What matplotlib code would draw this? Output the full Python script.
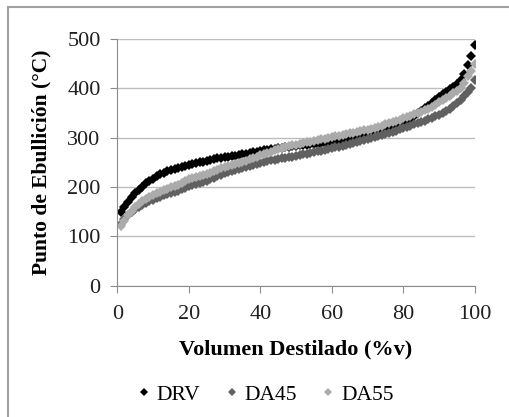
import numpy as np
import matplotlib
matplotlib.use('Agg')
import matplotlib.pyplot as plt
from matplotlib.patches import Rectangle

# volumen destilado (%v)
volumen = list(range(1, 101))

# punto de ebullicion (C)
drv = [150, 160, 170, 180, 187, 194, 201, 208, 213, 217,
       222, 226, 229, 232, 235, 237, 239, 241, 243, 245,
       247, 248, 250, 251, 253, 254, 256, 258, 259, 261,
       262, 263, 264, 266, 267, 268, 270, 271, 272, 274,
       275, 276, 277, 278, 279, 280, 281, 282, 283, 284,
       285, 286, 286, 287, 288, 288, 289, 290, 290, 291,
       292, 293, 295, 296, 298, 299, 301, 302, 304, 306,
       308, 310, 312, 314, 316, 318, 321, 324, 327, 330,
       334, 339, 345, 350, 355, 360, 365, 370, 376, 383,
       388, 393, 398, 404, 410, 418, 430, 448, 465, 488]

da45 = [125, 135, 143, 150, 155, 160, 164, 168, 171, 174,
        177, 180, 183, 186, 188, 191, 193, 196, 199, 203,
        205, 207, 209, 211, 213, 216, 219, 222, 225, 228,
        230, 232, 234, 236, 238, 240, 242, 244, 247, 249,
        251, 252, 254, 255, 257, 258, 259, 261, 262, 264,
        265, 267, 268, 270, 271, 273, 274, 276, 277, 279,
        281, 282, 284, 286, 288, 290, 292, 294, 296, 298,
        300, 302, 304, 306, 308, 310, 312, 314, 317, 319,
        321, 324, 327, 329, 332, 335, 338, 341, 344, 347,
        350, 354, 358, 364, 370, 377, 385, 393, 402, 418]

da55 = [120, 132, 143, 152, 160, 166, 171, 176, 180, 184,
        188, 191, 194, 197, 200, 202, 204, 208, 212, 216,
        218, 220, 222, 224, 226, 229, 232, 235, 238, 240,
        242, 244, 246, 248, 250, 253, 256, 259, 262, 265,
        268, 270, 272, 275, 277, 279, 281, 283, 285, 286,
        288, 290, 291, 292, 294, 295, 297, 298, 300, 301,
        303, 304, 306, 307, 309, 310, 312, 313, 315, 316,
        318, 320, 322, 324, 327, 329, 332, 334, 337, 340,
        342, 345, 348, 350, 353, 356, 359, 362, 367, 372,
        376, 380, 385, 390, 395, 402, 412, 425, 435, 450]

series = [('DRV', drv, '#000000'), ('DA45', da45, '#606060'), ('DA55', da55, '#ababab')]

plt.rcParams['font.family'] = ['Liberation Serif', 'DejaVu Serif']

fig = plt.figure(figsize=(5.1, 4.17), dpi=100)
ax = fig.add_axes([0.230, 0.315, 0.701, 0.591])

for nombre, valores, color in series:
    ax.plot(volumen, valores, linestyle='none', marker='D', markersize=5,
            color=color, markeredgewidth=0, label=nombre)

ax.set_xlim(0, 100)
ax.set_ylim(0, 500)
ax.set_xticks([0, 20, 40, 60, 80, 100])
ax.set_yticks([0, 100, 200, 300, 400, 500])
ax.yaxis.grid(True, color='#bdbdbd', linewidth=1)
ax.set_axisbelow(True)
for lado in ['top', 'right']:
    ax.spines[lado].set_visible(False)
for lado in ['left', 'bottom']:
    ax.spines[lado].set_color('#8c8c8c')
ax.tick_params(direction='out', length=5, color='#8c8c8c', labelsize=16, labelcolor='#202020')
ax.tick_params(axis='y', pad=7)
ax.tick_params(axis='x', pad=9)

ax.set_xlabel('Volumen Destilado (%v)', fontsize=16, fontweight='bold', labelpad=11)
ax.set_ylabel('Punto de Ebullición (°C)', fontsize=15.5, fontweight='bold', labelpad=11)

leg = fig.legend(loc='center', bbox_to_anchor=(0.522, 0.053), ncol=3, frameon=False,
                 fontsize=15.5, handlelength=0.5, handletextpad=0.35, columnspacing=1.2,
                 markerscale=0.75)

# marco del area del grafico
fig.add_artist(Rectangle((8 / 510, -0.2), 1.2, 1.2 - 7 / 417,
                         transform=fig.transFigure, fill=False,
                         edgecolor='#a0a0a0', linewidth=1.5))

fig.savefig('out.png', dpi=100)
